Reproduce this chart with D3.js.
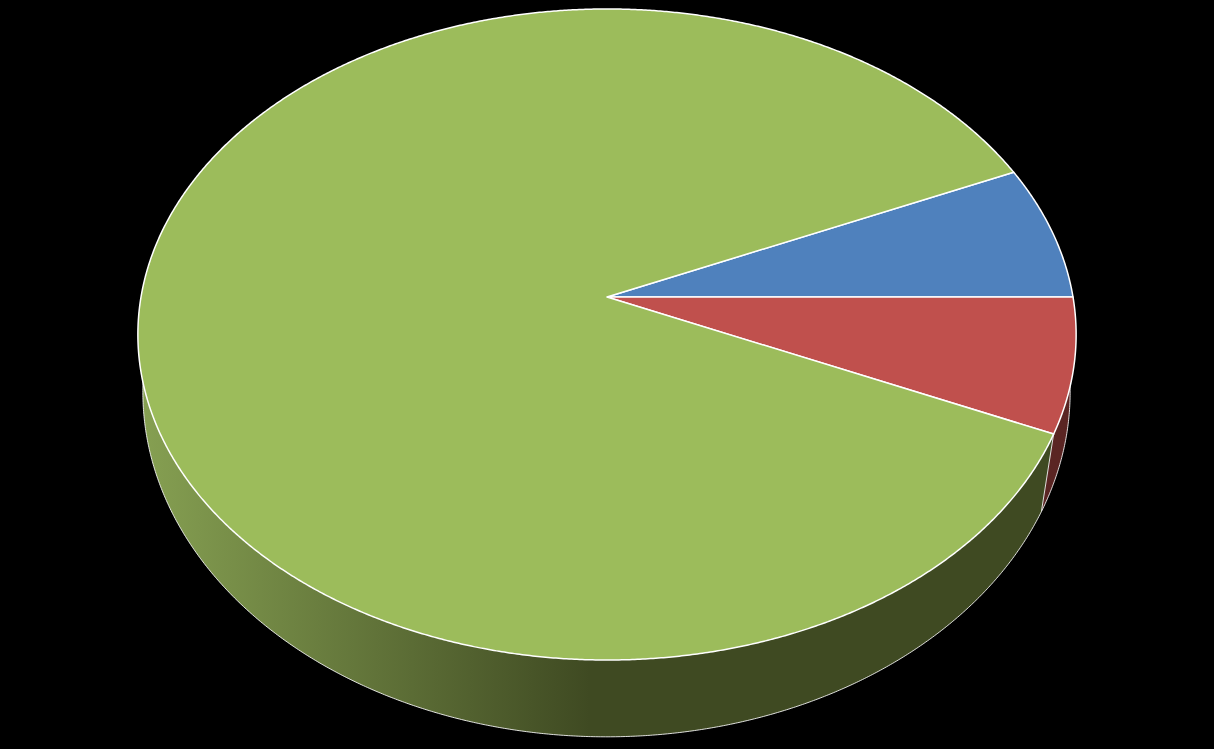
<!DOCTYPE html>
<html>
<head>
<meta charset="utf-8">
<title>Pie chart</title>
<script src="https://cdn.jsdelivr.net/npm/d3@7"></script>
<style>
  html, body { margin: 0; padding: 0; background: #000; overflow: hidden; }
  svg { display: block; }
</style>
</head>
<body>
<div id="chart"></div>
<script>
const w = 1214,
  h = 749;

// slices, no labels in the picture
const categories = ['blue', 'red', 'green'];
const values = [1, 1, 13];

const topColors = ['#4f81bd', '#c0504d', '#9cbc5b'];
const wallColors = ['#2a4565', '#5a2523', 'url(#greenWall)'];

// perspective of the two faces of the disc
const topFace = { x: 607, y: 297, a: 466, b: 321.2, k: 0.1152 };
const bottomFace = { x: 606.5, y: 368, a: 462.5, b: 343, k: 0.07 };

// d3 angle (0 = up, clockwise) to screen point
function project(face, angle) {
  const u = Math.sin(angle);
  const v = -Math.cos(angle);
  const d = 1 - face.k * v;
  return [face.x + face.a * u / d, face.y + face.b * v / d];
}

function arcPoints(face, start, end) {
  const n = Math.max(2, Math.ceil(Math.abs(end - start) / 0.005));
  return d3.range(n + 1).map(i => project(face, start + (end - start) * i / n));
}

const color = d3.scaleOrdinal().domain(categories).range(topColors);
const wallColor = d3.scaleOrdinal().domain(categories).range(wallColors);

const rad = deg => deg * Math.PI / 180;
const pie = d3.pie()
  .value(d => d.value)
  .sort(null)
  .startAngle(rad(66))
  .endAngle(rad(426));

const slices = pie(categories.map((c, i) => ({ name: c, value: values[i] })));
const line = d3.line();

const svg = d3.select('#chart')
  .append('svg')
  .attr('width', w)
  .attr('height', h);

svg.append('rect')
  .attr('width', w)
  .attr('height', h)
  .attr('fill', '#000');

// side of the green slice gets darker towards the middle
const grad = svg.append('defs')
  .append('linearGradient')
  .attr('id', 'greenWall')
  .attr('gradientUnits', 'userSpaceOnUse')
  .attr('x1', 140)
  .attr('x2', 590)
  .attr('y1', 0)
  .attr('y2', 0);
grad.append('stop').attr('offset', 0).attr('stop-color', '#86a052');
grad.append('stop').attr('offset', 1).attr('stop-color', '#3f4a22');

// walls, only the part of the rim that faces the viewer
const walls = svg.append('g').attr('class', 'walls');
slices.forEach(d => {
  const start = Math.max(d.startAngle, rad(90));
  const end = Math.min(d.endAngle, rad(290));
  if (end <= start) return;
  const upper = arcPoints(topFace, start, end);
  const lower = arcPoints(bottomFace, start, end);
  walls.append('path')
    .attr('d', line(upper.concat(lower.reverse())) + 'Z')
    .attr('fill', wallColor(d.data.name))
    .attr('stroke', 'none');
  walls.append('path')
    .attr('d', line(arcPoints(bottomFace, start, end)))
    .attr('fill', 'none')
    .attr('stroke', '#fff')
    .attr('stroke-opacity', 0.85)
    .attr('stroke-width', 1);
  walls.append('path')
    .attr('d', line([project(topFace, start), project(bottomFace, start)]))
    .attr('fill', 'none')
    .attr('stroke', '#fff')
    .attr('stroke-opacity', 0.85)
    .attr('stroke-width', 1);
});

// top of the disc
svg.append('g')
  .attr('class', 'slices')
  .selectAll('path')
  .data(slices)
  .enter()
  .append('path')
  .attr('d', d => {
    const centre = [topFace.x, topFace.y];
    return line([centre].concat(arcPoints(topFace, d.startAngle, d.endAngle))) + 'Z';
  })
  .attr('fill', d => color(d.data.name))
  .attr('stroke', '#fff')
  .attr('stroke-width', 1.5)
  .attr('stroke-linejoin', 'round');
</script>
</body>
</html>
